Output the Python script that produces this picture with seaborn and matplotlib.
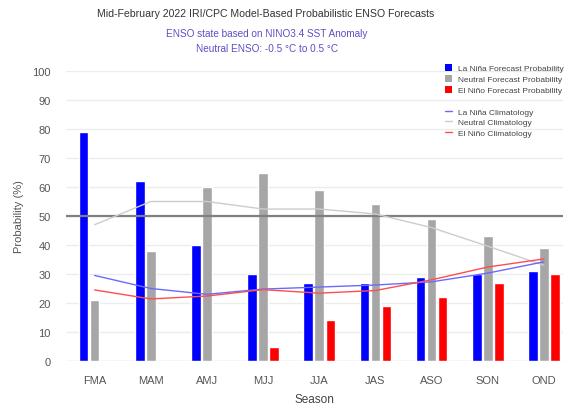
import numpy as np
import pandas as pd
import matplotlib
matplotlib.use("Agg")
import matplotlib.pyplot as plt
import seaborn as sns
from matplotlib.patches import Patch
from matplotlib.lines import Line2D

seasons = ["FMA", "MAM", "AMJ", "MJJ", "JJA", "JAS", "ASO", "SON", "OND"]
lanina_prob = [79, 62, 40, 30, 27, 27, 29, 30, 31]
neutral_prob = [21, 38, 60, 65, 59, 54, 49, 43, 39]
elnino_prob = [0, 0, 0, 5, 14, 19, 22, 27, 30]
lanina_clim = [29.5, 25, 23, 24.8, 25.5, 26.2, 27.3, 30.3, 34.2]
neutral_clim = [47, 55, 55, 52.4, 52.4, 50.7, 46, 39.6, 33]
elnino_clim = [24.5, 21.4, 22.4, 24.6, 23.4, 24.3, 28, 32.4, 35.2]
yticks = [0, 10, 20, 30, 40, 50, 60, 70, 80, 90, 100]

bar_labels = ["La Niña Forecast Probability", "Neutral Forecast Probability", "El Niño Forecast Probability"]
line_labels = ["La Niña Climatology", "Neutral Climatology", "El Niño Climatology"]
bar_colors = ["#0000ff", "#a6a6a6", "#ff0000"]
line_colors = ["#6a6aff", "#cccccc", "#ff4d4d"]

df = pd.DataFrame({
    "season": seasons * 3,
    "prob": lanina_prob + neutral_prob + elnino_prob,
    "type": [bar_labels[0]] * 9 + [bar_labels[1]] * 9 + [bar_labels[2]] * 9,
})

sns.set_style("white")
plt.rcParams["font.family"] = ["Liberation Sans", "DejaVu Sans"]

fig = plt.figure(figsize=(5.66, 4.10), dpi=100)
ax = fig.add_axes([66 / 566, (410 - 362) / 410, (563 - 66) / 566, (362 - 72) / 410])

# gridlines
for v in yticks[1:]:
    ax.axhline(v, color="#ececec", lw=1.0, zorder=0)
ax.axhline(0, color="#ccd6eb", lw=1.0, zorder=0)

sns.barplot(data=df, x="season", y="prob", hue="type", palette=bar_colors,
            width=0.59, gap=0.13, ax=ax, legend=False, zorder=2, saturation=1)

ax.axhline(50, color="#808080", lw=1.6, zorder=3)

xs = np.arange(len(seasons))
for vals, c in zip([neutral_clim, lanina_clim, elnino_clim], [line_colors[1], line_colors[0], line_colors[2]]):
    sns.lineplot(x=xs, y=vals, ax=ax, color=c, lw=1.0, zorder=4)

ax.set_xlim(-0.51, 8.34)
ax.set_ylim(0, 100)
ax.set_yticks(yticks)
ax.set_yticklabels([str(v) for v in yticks])
for s in ax.spines.values():
    s.set_visible(False)
ax.tick_params(axis="both", length=0, labelsize=8, colors="#555555")
ax.tick_params(axis="y", pad=11)
ax.tick_params(axis="x", pad=10)
ax.set_xlabel("Season", fontsize=8.5, color="#444444", labelpad=6)
ax.set_ylabel("Probability (%)", fontsize=8, color="#555555", labelpad=6)

fig.text(266 / 566, 1 - 14 / 410, "Mid-February 2022 IRI/CPC Model-Based Probabilistic ENSO Forecasts",
         ha="center", va="center", fontsize=7.6, color="#333333")
fig.text(267 / 566, 1 - 34 / 410, "ENSO state based on NINO3.4 SST Anomaly",
         ha="center", va="center", fontsize=7.2, color="#5b4fc4")
fig.text(267 / 566, 1 - 49 / 410, "Neutral ENSO: -0.5 °C to 0.5 °C",
         ha="center", va="center", fontsize=7.2, color="#5b4fc4")

h1 = [Patch(facecolor=c, edgecolor="none") for c in bar_colors]
leg1 = fig.legend(h1, bar_labels, loc="upper left", bbox_to_anchor=(445 / 566, 1 - 65 / 410),
                  frameon=False, fontsize=6.0, handlelength=0.8, handleheight=0.9,
                  handletextpad=0.7, labelspacing=0.3, borderpad=0, borderaxespad=0,
                  labelcolor="#444444")
h2 = [Line2D([0], [0], color=c, lw=1.0) for c in line_colors]
leg2 = fig.legend(h2, line_labels, loc="upper left", bbox_to_anchor=(445 / 566, 1 - 109 / 410),
                  frameon=False, fontsize=6.0, handlelength=0.8,
                  handletextpad=0.7, labelspacing=0.3, borderpad=0, borderaxespad=0,
                  labelcolor="#444444")

fig.savefig("out.png", dpi=100)
